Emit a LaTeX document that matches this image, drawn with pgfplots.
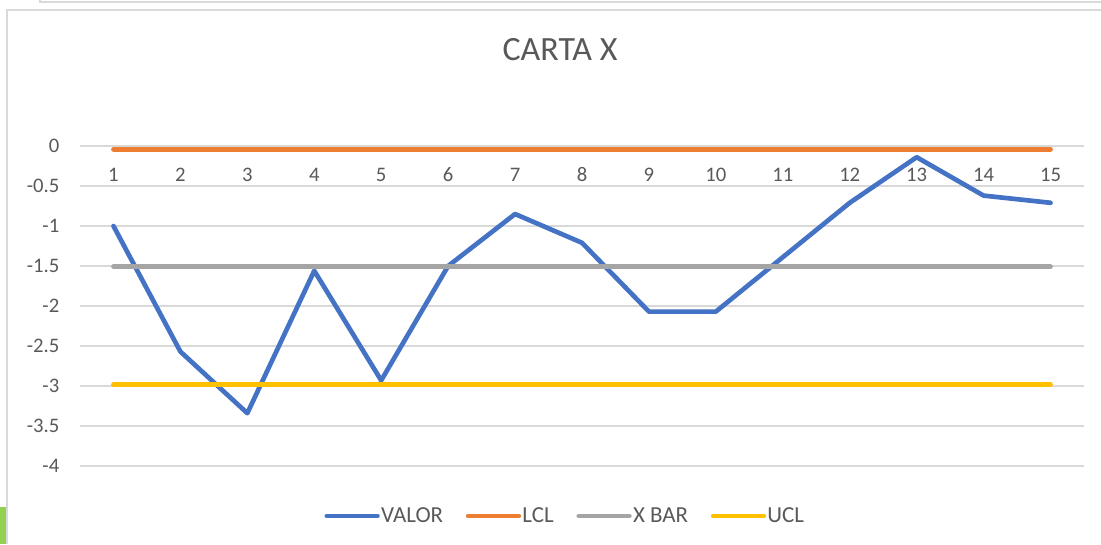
\documentclass[border=0pt]{standalone}
\usepackage{pgfplots}
\pgfplotsset{compat=1.18}
\usepackage{fontspec}
\setmainfont{Carlito}
\definecolor{cblue}{HTML}{4472C4}
\definecolor{corange}{HTML}{ED7D31}
\definecolor{cgray}{HTML}{A5A5A5}
\definecolor{cyellow}{HTML}{FFC000}
\definecolor{ctext}{HTML}{595959}
\definecolor{cgrid}{HTML}{D9D9D9}
\definecolor{cgreen}{HTML}{92D050}
\begin{document}
\begin{tikzpicture}
\path[use as bounding box] (0pt,0pt) rectangle (825.75pt,408pt);
% chart frame remnants
\fill[cgreen] (0pt,0pt) rectangle (4.5pt,27.75pt);
\draw[cgrid,line width=1.2pt] (5.25pt,0pt) -- (5.25pt,400.5pt) -- (830pt,400.5pt);
\draw[cgrid,line width=1pt] (30pt,410pt) -- (30pt,406.5pt) -- (830pt,406.5pt);
\node[text=ctext,font=\fontsize{25.5}{30}\selectfont] at (420pt,370.5pt) {CARTA X};
\begin{axis}[
  at={(60pt,58.5pt)}, anchor=south west,
  width=753pt, height=240pt, scale only axis,
  xmin=0.5, xmax=15.5, ymin=-4, ymax=0,
  axis line style={draw=none},
  ymajorgrids, major grid style={cgrid,line width=1pt},
  xtick={1,...,15},
  xticklabels={1,2,3,4,5,6,7,8,9,10,11,12,13,14,15},
  xticklabel pos=upper,
  xticklabel style={anchor=center,yshift=-21.75pt},
  ytick={-4,-3.5,-3,-2.5,-2,-1.5,-1,-0.5,0},
  yticklabels={-4,-3.5,-3,-2.5,-2,-1.5,-1,-0.5,0},
  yticklabel style={anchor=east,xshift=-12pt},
  major tick length=0pt,
  ticklabel style={text=ctext,font=\fontsize{15.5}{18}\selectfont},
  legend style={draw=none, fill=none, at={(axis description cs:0.483,-0.156)}, anchor=center,
    legend columns=4, font=\fontsize{17.2}{20}\selectfont, text=ctext,
    /tikz/every even column/.append style={column sep=16pt},
    nodes={inner sep=1pt}},
  legend image code/.code={\draw[#1] (0pt,0pt) -- (38pt,0pt);},
  every axis plot/.append style={line width=3.5pt, line cap=round, line join=round, mark=none},
]
\addplot[cblue] coordinates {(1,-1.0) (2,-2.57) (3,-3.34) (4,-1.56) (5,-2.93) (6,-1.5) (7,-0.85) (8,-1.21) (9,-2.07) (10,-2.07) (11,-1.39) (12,-0.71) (13,-0.14) (14,-0.62) (15,-0.71)};
\addlegendentry{VALOR}
\addplot[corange] coordinates {(1,-0.04) (15,-0.04)};
\addlegendentry{LCL}
\addplot[cgray] coordinates {(1,-1.51) (15,-1.51)};
\addlegendentry{X BAR}
\addplot[cyellow] coordinates {(1,-2.98) (15,-2.98)};
\addlegendentry{UCL}
\end{axis}
\end{tikzpicture}
\end{document}
